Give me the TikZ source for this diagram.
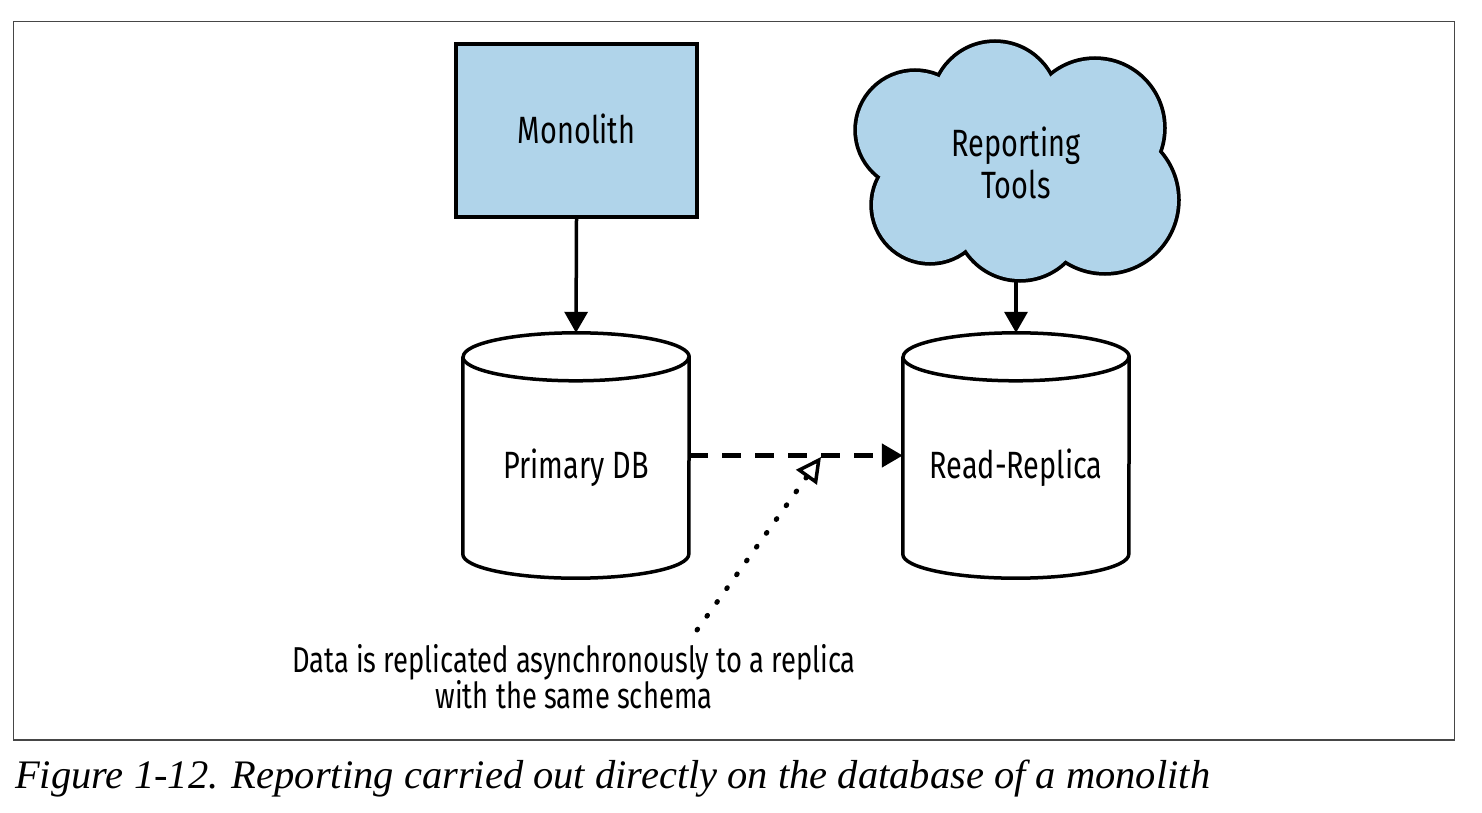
\documentclass[tikz,border=0pt]{standalone}
\usepackage{fontspec}
\setmainfont[FakeStretch=0.76]{Fira Sans}
\newfontfamily\capfont{Liberation Serif}
\usetikzlibrary{arrows.meta,calc}
\definecolor{boxblue}{RGB}{176,212,234}
\definecolor{framegray}{RGB}{70,70,70}
\begin{document}
\begin{tikzpicture}[x=1pt,y=-1pt,
  box/.style={draw=black, line width=4pt, fill=boxblue, minimum width=241pt, minimum height=173pt, inner sep=0pt},
  dbarea/.style={minimum width=226pt, minimum height=245pt, inner sep=0pt},
  dbline/.style={line width=3.5pt, line join=round},
  lbl/.style={font=\fontsize{38}{42}\selectfont, align=center, inner sep=0pt},
  note/.style={font=\fontsize{36}{36}\selectfont, align=center},
  arr/.style={line width=3.5pt, -{Triangle[length=21pt,width=23pt]}},
  dasharr/.style={line width=4.5pt, dash pattern=on 19pt off 14pt, -{Triangle[length=21pt,width=23pt]}},
  dotarr/.style={line width=5pt, line cap=round, dash pattern=on 1pt off 16pt, -{Triangle[open,length=25pt,width=25pt,line width=3.5pt]}},
  cloudline/.style={draw=black, line width=7.5pt},
  cloudfill/.style={fill=boxblue},
  frame/.style={draw=framegray, line width=1.5pt}
]
\useasboundingbox (0,0) rectangle (1482,813);
\fill[white] (0,0) rectangle (1482,813);
\draw[frame] (13.5,21.5) rectangle (1454.5,740);

% Monolith
\node[box] (mono) at (576.5,130.5) {};
\node[lbl] (monot) at (576.5,129) {Monolith};

% cloud
\foreach \cx/\cy/\r in {915/130/58, 995/105/62, 1095/128/68, 1105/200/72, 1020/215/64, 930/205/57}{
  \draw[cloudline] (\cx,\cy) circle[radius=\r pt];
}
\foreach \cx/\cy/\r in {915/130/58, 995/105/62, 1095/128/68, 1105/200/72, 1020/215/64, 930/205/57}{
  \fill[cloudfill] (\cx,\cy) circle[radius=\r pt];
}
\fill[cloudfill] (1015,165) ellipse[x radius=120pt, y radius=80pt];
\node[lbl] (rt) at (1016,163) {Reporting\\Tools};
\coordinate (cloudbot) at (1016,279);

% cylinders
\foreach \nm/\cx/\txt in {pdb/576/Primary DB, rr/1016/Read-Replica}{
  \node[dbarea] (\nm) at (\cx,455.5) {};
  \draw[dbline] ([yshift=-24pt]\nm.north west) -- ([yshift=24pt]\nm.south west)
     arc[start angle=180, end angle=360, x radius=113pt, y radius=24pt]
     -- ([yshift=-24pt]\nm.north east)
     arc[start angle=0, end angle=180, x radius=113pt, y radius=24pt] -- cycle;
  \draw[dbline] ([yshift=-24pt]\nm.north west)
     arc[start angle=180, end angle=360, x radius=113pt, y radius=24pt];
  \node[lbl] (\nm-t) at (\cx,467.5) {\txt};
}

% connectors
\draw[arr] (mono.south) -- (pdb.north);
\draw[arr] (cloudbot) -- (rr.north);
\draw[dasharr] (pdb.east) -- (rr.west);

\coordinate (dotstart) at (697,630);
\coordinate (dotend) at (821,457);
\draw[dotarr] (dotstart) -- (dotend);

\node[note] (nt) at (574,677) {Data is replicated asynchronously to a replica\\with the same schema};

\node[anchor=base west, inner sep=0pt, font=\capfont\itshape\fontsize{40.5}{44}\selectfont] (cap) at (15,788) {Figure 1-12. Reporting carried out directly on the database of a monolith};
\end{tikzpicture}
\end{document}
